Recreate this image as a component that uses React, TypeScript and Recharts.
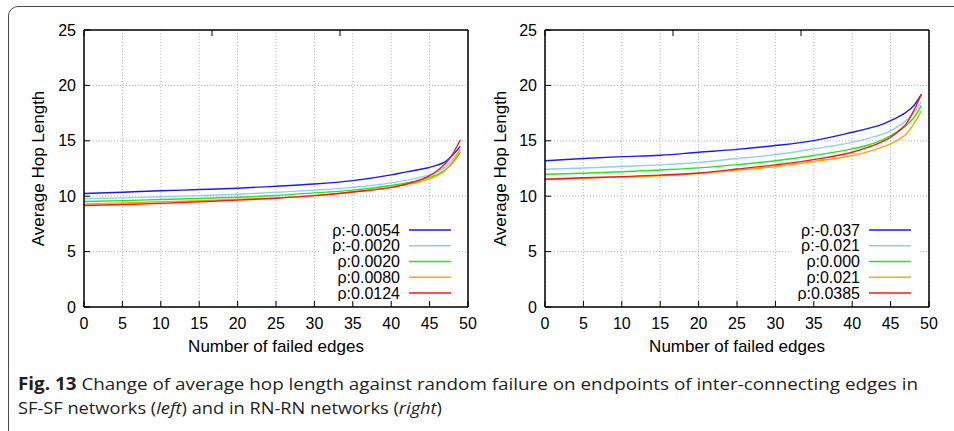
import React from 'react';
import { LineChart, Line, XAxis, YAxis, CartesianGrid, Legend } from 'recharts';

// x positions (failed edges)
const xs = [0, 5, 10, 15, 20, 25, 30, 35, 40, 42, 44, 45, 46, 47, 48, 49];
const xTicks = [0, 5, 10, 15, 20, 25, 30, 35, 40, 45, 50];
const yTicks = [0, 5, 10, 15, 20, 25];

// SF-SF networks (left)
const sfLabels = ['ρ:-0.0054', 'ρ:-0.0020', 'ρ:0.0020', 'ρ:0.0080', 'ρ:0.0124'];
const sfNeg0054 = [10.24, 10.36, 10.49, 10.6, 10.72, 10.9, 11.1, 11.41, 11.93, 12.2, 12.45, 12.6, 12.8, 13.1, 13.7, 14.5];
const sfNeg0020 = [9.77, 9.85, 9.95, 10.05, 10.17, 10.35, 10.55, 10.8, 11.2, 11.45, 11.75, 11.93, 12.2, 12.6, 13.3, 14.27];
const sfPos0020 = [9.52, 9.6, 9.7, 9.8, 9.9, 10.06, 10.3, 10.55, 10.96, 11.2, 11.5, 11.7, 11.95, 12.35, 13.0, 13.96];
const sfPos0080 = [9.3, 9.4, 9.5, 9.6, 9.72, 9.85, 10.05, 10.38, 10.8, 11.05, 11.35, 11.57, 11.85, 12.3, 13.1, 14.2];
const sfPos0124 = [9.16, 9.25, 9.35, 9.5, 9.65, 9.82, 10.05, 10.38, 10.8, 11.1, 11.55, 11.86, 12.3, 12.9, 13.8, 15.1];

// RN-RN networks (right)
const rnLabels = ['ρ:-0.037', 'ρ:-0.021', 'ρ:0.000', 'ρ:0.021', 'ρ:0.0385'];
const rnNeg037 = [13.2, 13.4, 13.57, 13.7, 13.97, 14.23, 14.57, 15.02, 15.77, 16.1, 16.5, 16.82, 17.15, 17.57, 18.17, 19.2];
const rnNeg021 = [12.43, 12.55, 12.68, 12.83, 13.04, 13.4, 13.75, 14.27, 14.86, 15.2, 15.6, 15.9, 16.3, 16.8, 17.5, 18.5];
const rnZero = [11.98, 12.07, 12.2, 12.37, 12.56, 12.85, 13.2, 13.67, 14.27, 14.6, 15.1, 15.47, 15.85, 16.37, 17.06, 18.17];
const rnPos021 = [11.5, 11.62, 11.73, 11.85, 12.05, 12.35, 12.68, 13.13, 13.67, 14.0, 14.45, 14.72, 15.1, 15.6, 16.5, 17.7];
const rnPos0385 = [11.53, 11.66, 11.77, 11.9, 12.1, 12.45, 12.83, 13.3, 13.97, 14.4, 14.95, 15.32, 15.85, 16.5, 17.7, 19.2];

const colors = ['#1a1af0', '#8fcfea', '#1ee81e', '#ffa500', '#ff1414'];
const font = '"Liberation Sans", Arial, sans-serif';

const makeRows = (series: number[][]) =>
  xs.map((x, i) => {
    const row: any = { x };
    series.forEach((s, k) => {
      row['s' + k] = s[i];
    });
    return row;
  });

const rowH = 15.75;

const legendContent = (labels: string[], boxW: number, textRight: number) => () => (
  <svg width={boxW} height={80} style={{ display: 'block' }}>
    <rect x={0} y={0} width={boxW} height={80} fill="#fff" />
    {labels.map((l, i) => (
      <g key={l}>
        <text x={textRight} y={9 + i * rowH + 5.6} textAnchor="end" fontSize={16} fontFamily={font} fill="#000">
          {l}
        </text>
        <line x1={textRight + 9} x2={textRight + 51} y1={9 + i * rowH} y2={9 + i * rowH} stroke={colors[i]} strokeWidth={1.5} />
      </g>
    ))}
  </svg>
);

interface HopChartProps {
  series: number[][];
  labels: string[];
  marginLeft: number;
  marginRight: number;
  legendLeft: number;
  legendW: number;
  legendTextRight: number;
  yLabelDx: number;
}

const HopChart: React.FC<HopChartProps> = ({ series, labels, marginLeft, marginRight, legendLeft, legendW, legendTextRight, yLabelDx }) => {
  const rows = makeRows(series);
  return (
    <LineChart
      width={477}
      height={360}
      data={rows}
      margin={{ top: 29, right: marginRight, bottom: 8, left: marginLeft }}
      style={{ fontFamily: font }}
    >
      <CartesianGrid stroke="#b4b4b4" strokeDasharray="1 2" />
      <XAxis
        dataKey="x"
        type="number"
        domain={[0, 50]}
        ticks={xTicks}
        height={45}
        tickSize={-6}
        tickMargin={16.5}
        axisLine={{ stroke: '#000', strokeWidth: 1.5 }}
        tickLine={{ stroke: '#000' }}
        tick={{ fontSize: 16, fill: '#000', fontFamily: font }}
        label={{ value: 'Number of failed edges', position: 'insideBottom', offset: 0, fontSize: 17, fill: '#000', fontFamily: font }}
      />
      <XAxis
        xAxisId="top"
        orientation="top"
        type="number"
        domain={[0, 50]}
        ticks={xTicks}
        height={1}
        tickSize={-6}
        axisLine={{ stroke: '#000', strokeWidth: 1.5 }}
        tickLine={{ stroke: '#000' }}
        tick={() => <g />}
      />
      <YAxis
        type="number"
        domain={[0, 25]}
        ticks={yTicks}
        width={60}
        tickSize={-6}
        tickMargin={14}
        axisLine={{ stroke: '#000', strokeWidth: 1.5 }}
        tickLine={{ stroke: '#000' }}
        tick={{ fontSize: 16, fill: '#000', fontFamily: font }}
        label={{ value: 'Average Hop Length', angle: -90, position: 'center', dx: yLabelDx, fontSize: 17, fill: '#000', fontFamily: font }}
      />
      <YAxis
        yAxisId="right"
        orientation="right"
        type="number"
        domain={[0, 25]}
        ticks={yTicks}
        width={1}
        tickSize={-6}
        axisLine={{ stroke: '#000', strokeWidth: 1.5 }}
        tickLine={{ stroke: '#000' }}
        tick={() => <g />}
      />
      {series.map((_, k) => (
        <Line
          key={k}
          type="monotone"
          dataKey={'s' + k}
          stroke={colors[k]}
          strokeWidth={1.4}
          dot={false}
          isAnimationActive={false}
        />
      ))}
      <Legend
        layout="horizontal"
        verticalAlign="middle"
        align="center"
        width={legendW}
        height={80}
        wrapperStyle={{ left: legendLeft, top: 221, width: legendW, height: 80 }}
        content={legendContent(labels, legendW, legendTextRight)}
      />
    </LineChart>
  );
};

export default function App() {
  return (
    <div style={{ position: 'absolute', left: 0, top: 0, width: 954, height: 431, background: '#fff', overflow: 'hidden' }}>
      <div
        style={{
          position: 'absolute',
          left: 8,
          top: 6,
          width: 980,
          height: 460,
          border: '1.5px solid #4a4a4a',
          borderRadius: 10,
          boxSizing: 'border-box',
        }}
      />
      <div style={{ position: 'absolute', left: 0, top: 0 }}>
        <HopChart
          series={[sfNeg0054, sfNeg0020, sfPos0020, sfPos0080, sfPos0124]}
          labels={sfLabels}
          marginLeft={24}
          marginRight={8}
          legendLeft={320}
          legendW={138}
          legendTextRight={80}
          yLabelDx={-16}
        />
      </div>
      <div style={{ position: 'absolute', left: 477, top: 0 }}>
        <HopChart
          series={[rnNeg037, rnNeg021, rnZero, rnPos021, rnPos0385]}
          labels={rnLabels}
          marginLeft={8}
          marginRight={24}
          legendLeft={313}
          legendW={129}
          legendTextRight={70}
          yLabelDx={-15}
        />
      </div>
      <svg style={{ position: 'absolute', left: 0, top: 360 }} width={954} height={71}>
        <text x={18} y={30} fontSize={17} fontFamily='"Open Sans", sans-serif' fill="#231f20" textLength={900} lengthAdjust="spacingAndGlyphs">
          <tspan fontWeight="bold">Fig. 13</tspan>
          <tspan>{'  Change of average hop length against random failure on endpoints of inter-connecting edges in'}</tspan>
        </text>
        <text x={18} y={54} fontSize={17} fontFamily='"Open Sans", sans-serif' fill="#231f20" textLength={424} lengthAdjust="spacingAndGlyphs">
          <tspan>{'SF-SF networks ('}</tspan>
          <tspan fontStyle="italic">left</tspan>
          <tspan>{') and in RN-RN networks ('}</tspan>
          <tspan fontStyle="italic">right</tspan>
          <tspan>)</tspan>
        </text>
      </svg>
    </div>
  );
}
